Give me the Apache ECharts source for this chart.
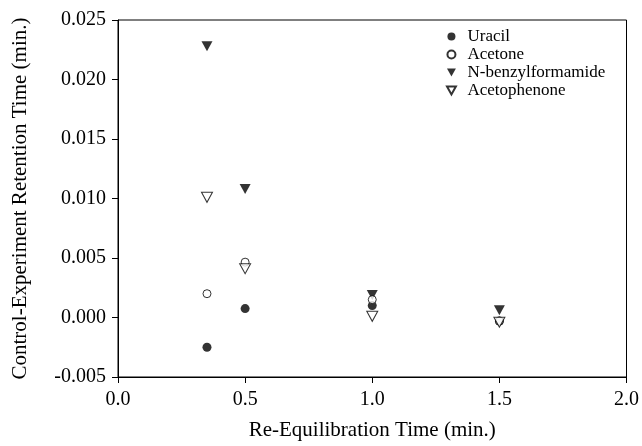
<!DOCTYPE html>
<html>
<head>
<meta charset="utf-8">
<script src="https://cdn.jsdelivr.net/npm/echarts@6/dist/echarts.min.js"></script>
<style>
  html, body { margin: 0; padding: 0; background: #fff; }
  #chart { width: 642px; height: 446px; }
</style>
</head>
<body>
<div id="chart"></div>
<script>
// Re-equilibration times (min.)
const reEquilibrationTimes = [0.35, 0.5, 1.0, 1.5];

// Control minus experiment retention time (min.) for each compound
const uracil = [-0.0025, 0.00075, 0.001, -0.0003];
const acetone = [0.002, 0.00465, 0.0015, -0.0003];
const nBenzylformamide = [0.0228, 0.0108, 0.0019, 0.0006];
const acetophenone = [0.0101, 0.0041, 0.0001, -0.0004];

const seriesNames = ['Uracil', 'Acetone', 'N-benzylformamide', 'Acetophenone'];

const xTickLabels = ['0.0', '0.5', '1.0', '1.5', '2.0'];
const yTickLabels = ['-0.005', '0.000', '0.005', '0.010', '0.015', '0.020', '0.025'];

const downTriangle = 'path://M0,0 L10,0 L5,9 Z';
const serif = '"Liberation Serif", "Times New Roman", serif';

function pairs(values) {
  return reEquilibrationTimes.map((x, i) => [x, values[i]]);
}

const filled = { color: '#000', borderColor: '#000', borderWidth: 0 };
const hollow = { color: '#fff', borderColor: '#000', borderWidth: 1 };

const chart = echarts.init(document.getElementById('chart'), null, { renderer: 'canvas' });

chart.setOption({
  animation: false,
  backgroundColor: '#fff',
  textStyle: { fontFamily: serif, color: '#000' },
  grid: {
    left: 118, right: 8, top: 20, bottom: 64,
    show: true, borderColor: '#000', borderWidth: 1, backgroundColor: 'transparent'
  },
  legend: {
    orient: 'vertical',
    left: 446, top: 28,
    padding: 0,
    itemWidth: 22, itemHeight: 8, itemGap: 1,
    data: seriesNames,
    textStyle: { fontFamily: serif, fontSize: 17, color: '#000', lineHeight: 17 }
  },
  xAxis: {
    type: 'value',
    min: 0, max: 2, interval: 0.5,
    name: 'Re-Equilibration Time (min.)',
    nameLocation: 'middle', nameGap: 43,
    nameTextStyle: { fontFamily: serif, fontSize: 21, color: '#000' },
    axisLine: { show: true, onZero: false, lineStyle: { color: '#000', width: 1 } },
    axisTick: { show: true, inside: false, length: 6, lineStyle: { color: '#000' } },
    axisLabel: {
      margin: 13, fontFamily: serif, fontSize: 20, color: '#000',
      formatter: (v) => xTickLabels[Math.round(v / 0.5)]
    },
    splitLine: { show: false }
  },
  yAxis: {
    type: 'value',
    min: -0.005, max: 0.025, interval: 0.005,
    name: 'Control-Experiment Retention Time (min.)',
    nameLocation: 'middle', nameGap: 87,
    nameTextStyle: { fontFamily: serif, fontSize: 21, color: '#000' },
    axisLine: { show: true, onZero: false, lineStyle: { color: '#000', width: 1 } },
    axisTick: { show: true, inside: false, length: 6, lineStyle: { color: '#000' } },
    axisLabel: {
      margin: 12, fontFamily: serif, fontSize: 20, color: '#000',
      formatter: (v) => yTickLabels[Math.round((v + 0.005) / 0.005)]
    },
    splitLine: { show: false }
  },
  series: [
    {
      name: 'N-benzylformamide', type: 'scatter',
      symbol: downTriangle, symbolSize: [11, 10],
      itemStyle: filled, data: pairs(nBenzylformamide)
    },
    {
      name: 'Uracil', type: 'scatter',
      symbol: 'circle', symbolSize: 9,
      itemStyle: filled, data: pairs(uracil)
    },
    {
      name: 'Acetone', type: 'scatter',
      symbol: 'circle', symbolSize: 8,
      itemStyle: hollow, data: pairs(acetone)
    },
    {
      name: 'Acetophenone', type: 'scatter',
      symbol: downTriangle, symbolSize: [11, 10],
      itemStyle: hollow, data: pairs(acetophenone)
    }
  ]
});
</script>
</body>
</html>
